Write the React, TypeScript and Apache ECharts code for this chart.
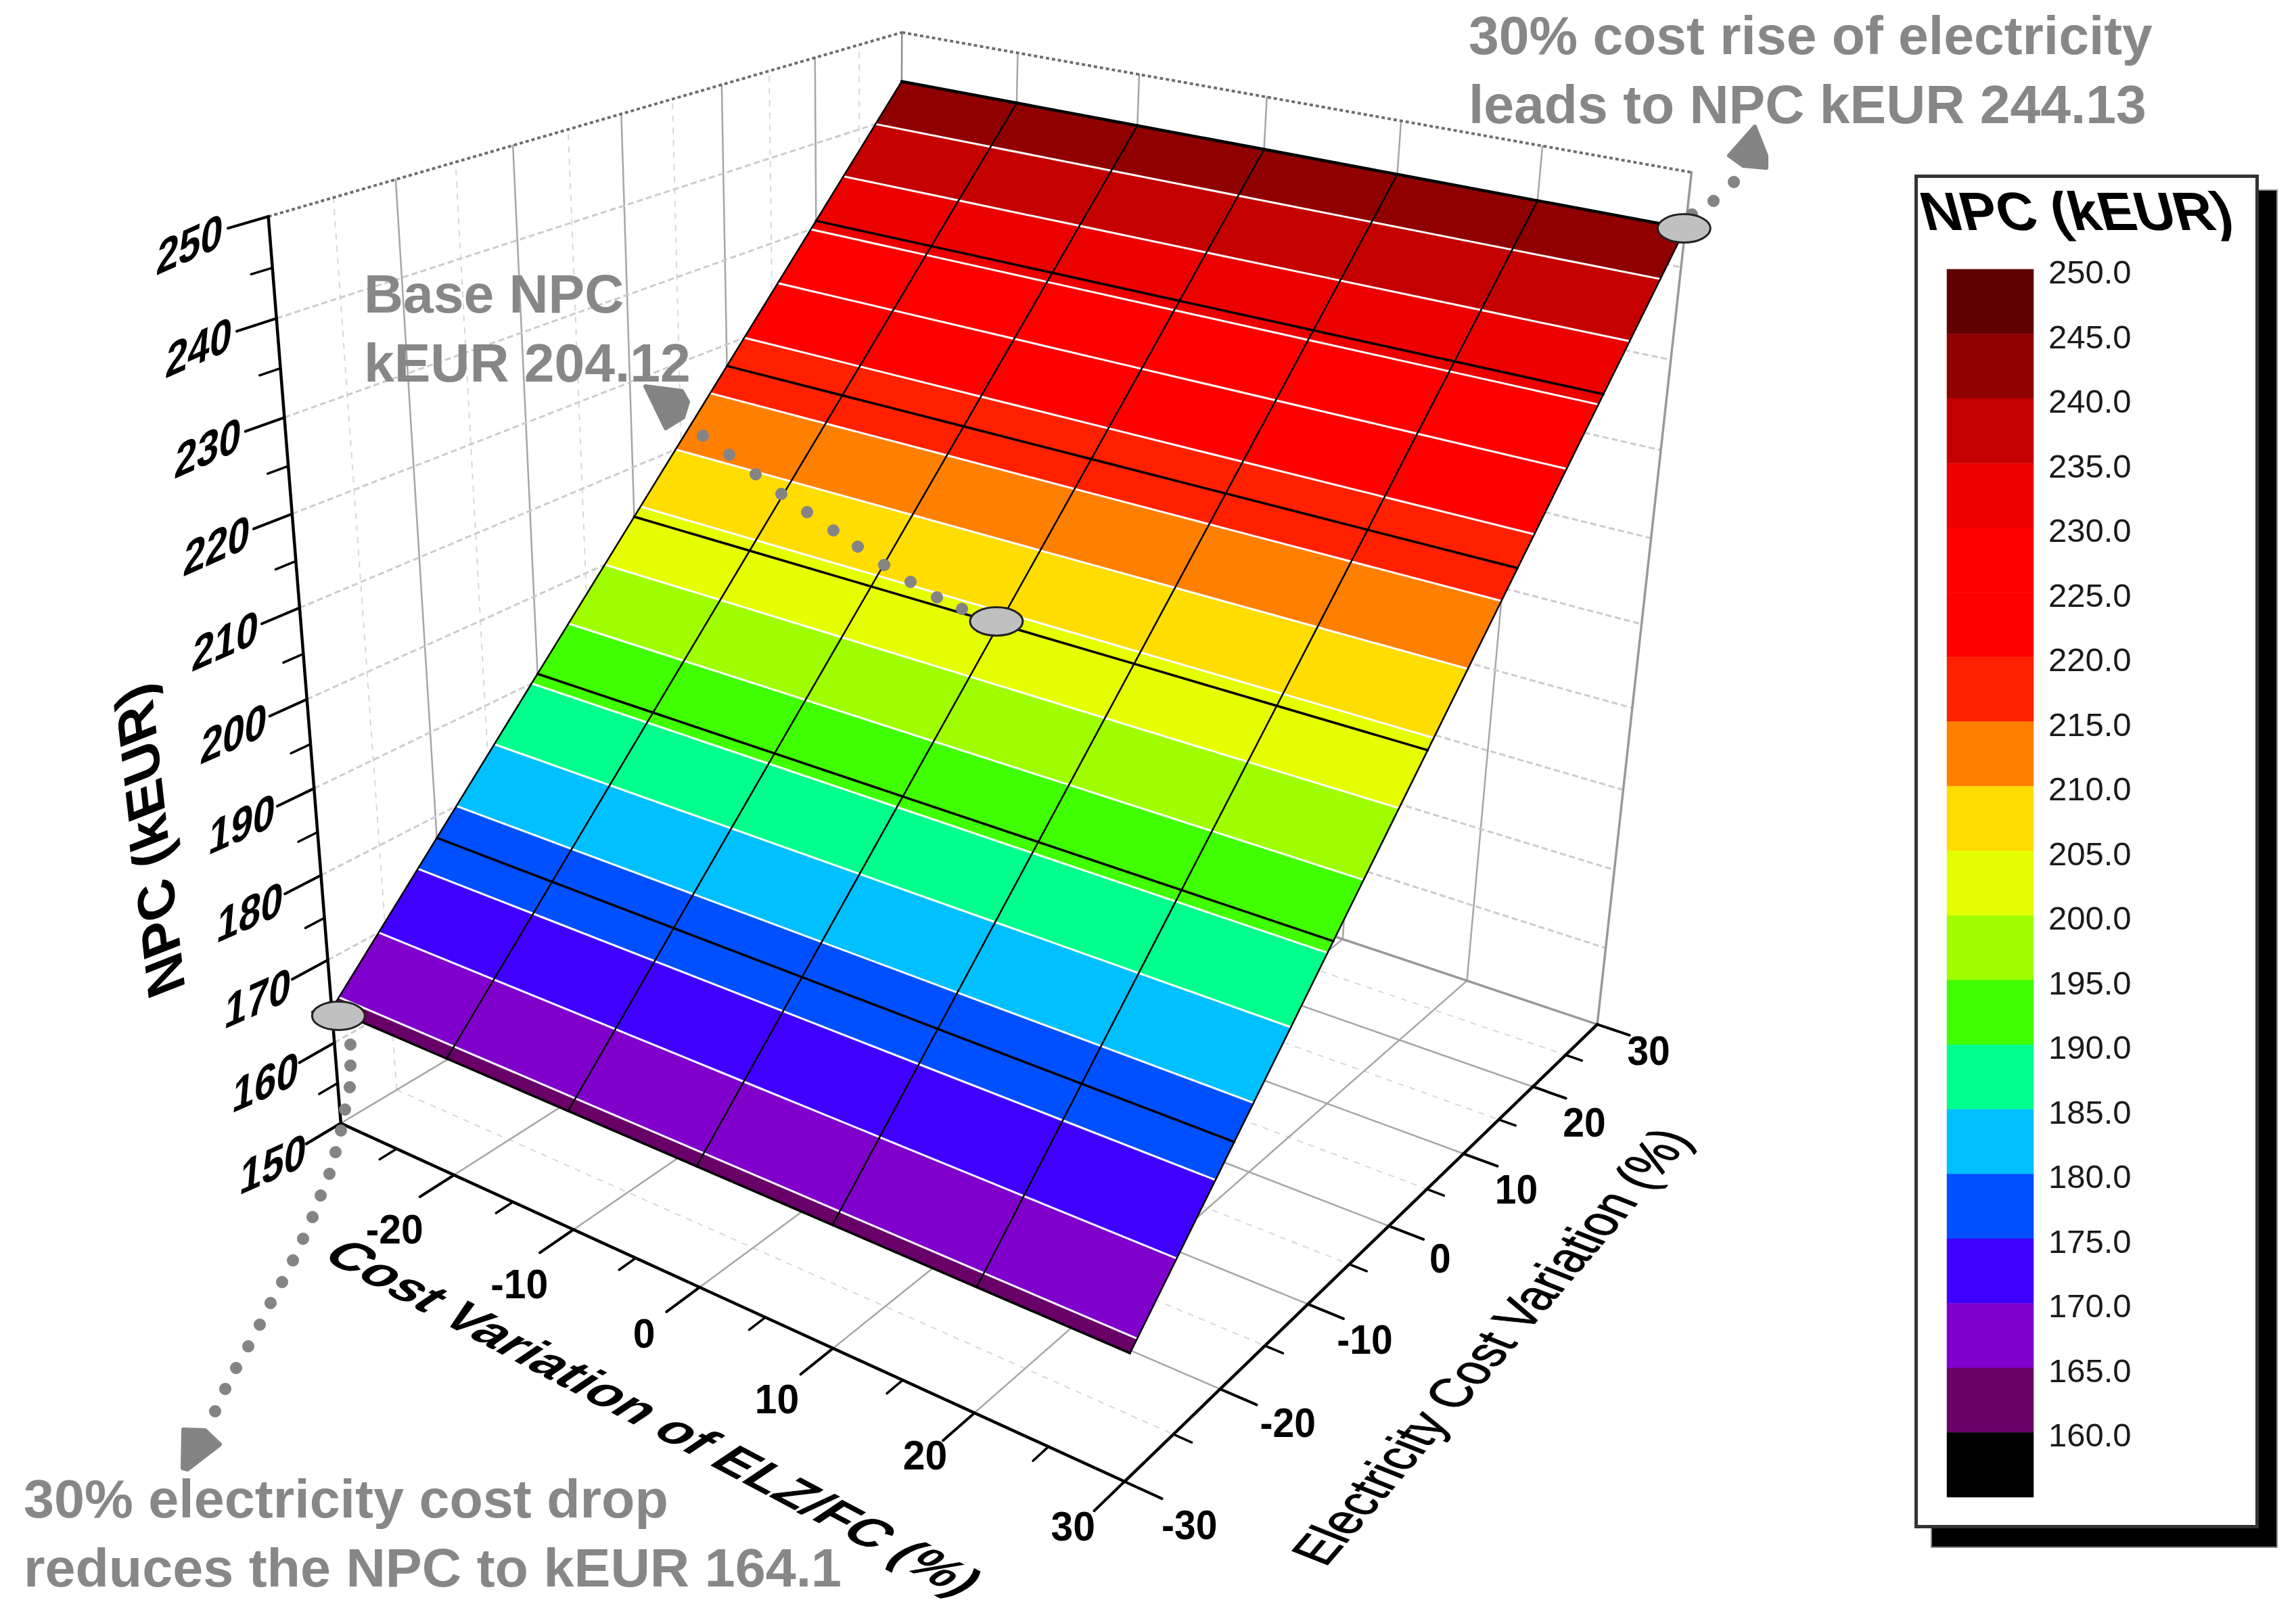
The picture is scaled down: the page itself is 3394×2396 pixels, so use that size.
import React, { useEffect, useRef } from "react";
import * as echarts from "echarts";

// ---------- data ----------
const elzLevels = [-30, -20, -10, 0, 10, 20, 30];
const electricityLevels = [-30, -20, -10, 0, 10, 20, 30];
// one row per electricity level, one column per ELZ/FC level
const npcGrid = [
  [164.1, 164.1, 164.1, 164.1, 164.1, 164.1, 164.1],
  [177.45, 177.45, 177.45, 177.45, 177.45, 177.45, 177.45],
  [190.8, 190.8, 190.8, 190.8, 190.8, 190.8, 190.8],
  [204.12, 204.12, 204.12, 204.12, 204.12, 204.12, 204.12],
  [217.45, 217.45, 217.45, 217.45, 217.45, 217.45, 217.45],
  [230.8, 230.8, 230.8, 230.8, 230.8, 230.8, 230.8],
  [244.13, 244.13, 244.13, 244.13, 244.13, 244.13, 244.13],
];
const npcTicks = [150, 160, 170, 180, 190, 200, 210, 220, 230, 240, 250];
const npcMinorTicks = [155, 165, 175, 185, 195, 205, 215, 225, 235, 245];
const variationMinorTicks = [-25, -15, -5, 5, 15, 25];
const legendLevels = [250, 245, 240, 235, 230, 225, 220, 215, 210, 205, 200, 195, 190, 185, 180, 175, 170, 165, 160];
const legendColors = [
  "#600000", "#900000", "#c40000", "#ec0000", "#ff0000", "#ff0000", "#ff2000", "#ff8000", "#ffdd00", "#e6ff00",
  "#9fff00", "#40ff00", "#00ff8c", "#00c0ff", "#0050ff", "#4000ff", "#8000cc", "#680068", "#000000",
];
const keyPoints = [
  [-30, -30, 164.1],
  [0, 0, 204.12],
  [30, 30, 244.13],
];
const noteLowText = ["30% electricity cost drop", "reduces the NPC to kEUR 164.1"];
const noteBaseText = ["Base NPC", "kEUR 204.12"];
const noteHighText = ["30% cost rise of electricity", "leads to NPC kEUR 244.13"];

// ---------- camera calibration: box reference points -> page pixels ----------
const cameraAnchors = [
  [-30, -30, 150, 502, 1661], [-20, -30, 150, 668, 1737], [-10, -30, 150, 848, 1816], [10, -30, 150, 1230, 1992],
  [20, -30, 150, 1437, 2088], [30, -30, 150, 1663, 2190], [30, -20, 150, 1806, 2054], [30, -10, 150, 1934, 1927],
  [30, 0, 150, 2054, 1813], [30, 10, 150, 2163, 1705], [30, 20, 150, 2270, 1606], [30, 30, 150, 2362, 1514],
  [20, 30, 150, 2170, 1452],
  [-30, -30, 250, 397, 320], [-30, -20, 250, 583, 266], [-30, -10, 250, 759, 215], [-30, 0, 250, 918, 168],
  [-30, 10, 250, 1067, 125], [-30, 20, 250, 1204, 84], [-30, 30, 250, 1333, 47], [-20, 30, 250, 1504, 79],
  [-10, 30, 250, 1683, 110], [0, 30, 250, 1874, 145], [10, 30, 250, 2075, 180], [20, 30, 250, 2281, 218],
  [30, 30, 250, 2501, 254],
  [-30, -30, 240, 408, 472], [-30, -30, 230, 420, 617], [-30, -30, 220, 432, 760], [-30, -30, 210, 444, 899],
  [-30, -30, 200, 454.5, 1032], [-30, -30, 190, 464, 1167], [-30, -30, 180, 474, 1293], [-30, -30, 170, 484.6, 1421],
  [-30, -30, 160, 492, 1543],
  [30, 30, 160, 2371, 1400], [30, 30, 170, 2384, 1284], [30, 30, 180, 2397.5, 1168], [30, 30, 190, 2413, 1047],
  [30, 30, 200, 2425, 925],
  [30, -30, 164.1, 1671, 2000], [30, 30, 244.13, 2490, 335], [-30, 30, 244.13, 1333, 120], [0, 0, 204.12, 1472, 918],
  [-30, 0, 204.12, 939, 763], [30, 0, 204.12, 2112, 1109], [-30, -30, 164.1, 499, 1490],
];

function solveCamera() {
  const n = 11;
  const M = Array.from({ length: n }, () => new Array(n + 1).fill(0));
  const add = (row: number[], rhs: number) => {
    for (let i = 0; i < n; i++) {
      for (let j = 0; j < n; j++) M[i][j] += row[i] * row[j];
      M[i][n] += row[i] * rhs;
    }
  };
  cameraAnchors.forEach(([x, y, z, u, v]) => {
    const X = x / 30, Y = y / 30, Z = (z - 200) / 50, U = u / 1000, V = v / 1000;
    add([X, Y, Z, 1, 0, 0, 0, 0, -U * X, -U * Y, -U * Z], U);
    add([0, 0, 0, 0, X, Y, Z, 1, -V * X, -V * Y, -V * Z], V);
  });
  for (let c = 0; c < n; c++) {
    let best = c;
    for (let r = c + 1; r < n; r++) if (Math.abs(M[r][c]) > Math.abs(M[best][c])) best = r;
    [M[c], M[best]] = [M[best], M[c]];
    for (let r = 0; r < n; r++) {
      if (r === c) continue;
      const f = M[r][c] / M[c][c];
      for (let k = c; k <= n; k++) M[r][k] -= f * M[c][k];
    }
  }
  return M.map((row, i) => row[n] / row[i]);
}
const cam = solveCamera();
function project(x: number, y: number, z: number): [number, number] {
  const X = x / 30, Y = y / 30, Z = (z - 200) / 50;
  const w = cam[8] * X + cam[9] * Y + cam[10] * Z + 1;
  return [
    (1000 * (cam[0] * X + cam[1] * Y + cam[2] * Z + cam[3])) / w,
    (1000 * (cam[4] * X + cam[5] * Y + cam[6] * Z + cam[7])) / w,
  ];
}

// ---------- derived marks ----------
type P3 = [number, number, number];
type Seg = { a: P3; b: P3; color: string; width: number; dash?: number[] };
const xMin = elzLevels[0], xMax = elzLevels[elzLevels.length - 1];
const yMin = electricityLevels[0], yMax = electricityLevels[electricityLevels.length - 1];
const zMin = npcTicks[0], zMax = npcTicks[npcTicks.length - 1];
const inner = (arr: number[]) => arr.slice(1, -1);

const frameSegs: Seg[] = [];
const SOLID = "#a6a6a6", DASH_Z = "#cccccc", DASH_MINOR = "#d8d8d8", TOP = "#6e6e6e";
// left wall and floor minors
variationMinorTicks.forEach((y) => {
  frameSegs.push({ a: [xMin, y, zMin], b: [xMin, y, zMax], color: DASH_MINOR, width: 2, dash: [9, 9] });
  frameSegs.push({ a: [xMin, y, zMin], b: [xMax, y, zMin], color: DASH_MINOR, width: 2, dash: [9, 9] });
});
inner(electricityLevels).forEach((y) => {
  frameSegs.push({ a: [xMin, y, zMin], b: [xMin, y, zMax], color: SOLID, width: 2.5 });
  frameSegs.push({ a: [xMin, y, zMin], b: [xMax, y, zMin], color: SOLID, width: 2.5 });
});
inner(elzLevels).forEach((x) => {
  frameSegs.push({ a: [x, yMax, zMin], b: [x, yMax, zMax], color: SOLID, width: 2.5 });
  frameSegs.push({ a: [x, yMin, zMin], b: [x, yMax, zMin], color: SOLID, width: 2.5 });
});
inner(npcTicks).forEach((z) => {
  frameSegs.push({ a: [xMin, yMin, z], b: [xMin, yMax, z], color: DASH_Z, width: 3, dash: [9, 5] });
  frameSegs.push({ a: [xMin, yMax, z], b: [xMax, yMax, z], color: DASH_Z, width: 3, dash: [9, 5] });
});
frameSegs.push({ a: [xMin, yMin, zMin], b: [xMin, yMax, zMin], color: SOLID, width: 2.5 });
frameSegs.push({ a: [xMin, yMax, zMin], b: [xMax, yMax, zMin], color: "#999999", width: 3.5 });
frameSegs.push({ a: [xMax, yMax, zMin], b: [xMax, yMax, zMax], color: "#999999", width: 3.5 });
frameSegs.push({ a: [xMin, yMax, zMin], b: [xMin, yMax, zMax], color: "#8c8c8c", width: 2.5 });
frameSegs.push({ a: [xMin, yMin, zMax], b: [xMin, yMax, zMax], color: TOP, width: 4, dash: [5, 4] });
frameSegs.push({ a: [xMin, yMax, zMax], b: [xMax, yMax, zMax], color: TOP, width: 4, dash: [5, 4] });
// axes
frameSegs.push({ a: [xMin, yMin, zMin], b: [xMin, yMin, zMax], color: "#000", width: 4.5 });
frameSegs.push({ a: [xMin, yMin, zMin], b: [xMax, yMin, zMin], color: "#000", width: 4.5 });
frameSegs.push({ a: [xMax, yMin, zMin], b: [xMax, yMax, zMin], color: "#000", width: 4.5 });
npcTicks.forEach((z) => frameSegs.push({ a: [xMin, yMin, z], b: [xMin, yMin - 3, z], color: "#000", width: 4 }));
npcMinorTicks.forEach((z) => frameSegs.push({ a: [xMin, yMin, z], b: [xMin, yMin - 1.6, z], color: "#000", width: 3.5 }));
elzLevels.forEach((x) => frameSegs.push({ a: [x, yMin, zMin], b: [x, yMin - 3, zMin], color: "#000", width: 4 }));
variationMinorTicks.forEach((x) => frameSegs.push({ a: [x, yMin, zMin], b: [x, yMin - 1.5, zMin], color: "#000", width: 3.5 }));
electricityLevels.forEach((y) => frameSegs.push({ a: [xMax, y, zMin], b: [xMax + 2.4, y, zMin], color: "#000", width: 4 }));
variationMinorTicks.forEach((y) => frameSegs.push({ a: [xMax, y, zMin], b: [xMax + 1.2, y, zMin], color: "#000", width: 3.5 }));

// contour bands of the surface
type Poly = { pts: P3[]; color: string };
const clip = (pts: P3[], level: number, keepAbove: boolean): P3[] => {
  const out: P3[] = [];
  pts.forEach((p, i) => {
    const q = pts[(i + 1) % pts.length];
    const pIn = keepAbove ? p[2] >= level : p[2] <= level;
    const qIn = keepAbove ? q[2] >= level : q[2] <= level;
    if (pIn) out.push(p);
    if (pIn !== qIn) {
      const t = (level - p[2]) / (q[2] - p[2]);
      out.push([p[0] + t * (q[0] - p[0]), p[1] + t * (q[1] - p[1]), level]);
    }
  });
  return out;
};
const bandPolys: Poly[] = [];
const contourSegs: Seg[] = [];
for (let j = 0; j < electricityLevels.length - 1; j++) {
  for (let i = 0; i < elzLevels.length - 1; i++) {
    const quad: P3[] = [
      [elzLevels[i], electricityLevels[j], npcGrid[j][i]],
      [elzLevels[i + 1], electricityLevels[j], npcGrid[j][i + 1]],
      [elzLevels[i + 1], electricityLevels[j + 1], npcGrid[j + 1][i + 1]],
      [elzLevels[i], electricityLevels[j + 1], npcGrid[j + 1][i]],
    ];
    legendLevels.forEach((hi, k) => {
      const pts = clip(clip(quad, hi - 5, true), hi, false);
      if (pts.length >= 3) bandPolys.push({ pts, color: legendColors[k] });
      const hits = clip(quad, hi, true).filter((p) => p[2] === hi);
      if (hits.length === 2) contourSegs.push({ a: hits[0], b: hits[1], color: "#ffffff", width: 3 });
    });
  }
}
const meshSegs: Seg[] = [];
electricityLevels.forEach((y, j) => {
  for (let i = 0; i < elzLevels.length - 1; i++) {
    const edge = j === electricityLevels.length - 1;
    meshSegs.push({ a: [elzLevels[i], y, npcGrid[j][i]], b: [elzLevels[i + 1], y, npcGrid[j][i + 1]], color: "#000", width: edge ? 4.5 : 3.5 });
  }
});
elzLevels.forEach((x, i) => {
  for (let j = 0; j < electricityLevels.length - 1; j++) {
    meshSegs.push({ a: [x, electricityLevels[j], npcGrid[j][i]], b: [x, electricityLevels[j + 1], npcGrid[j + 1][i]], color: "#000", width: 2.5 });
  }
});

// ---------- annotations (page pixels) ----------
const GREY = "#878787";
const lowDots = [[518, 1544], [518, 1575], [517, 1607], [510, 1640], [504, 1671], [496, 1703], [487, 1735], [474, 1767], [462, 1799], [448, 1831], [433, 1863], [417, 1895], [400, 1926], [384, 1958], [367, 1990], [349, 2022], [333, 2053], [318, 2086]];
const baseDots = [[1039, 644], [1078, 672], [1117, 701], [1155, 730], [1193, 757], [1232, 784], [1268, 808], [1307, 835], [1346, 860], [1385, 883], [1422, 900]];
const highDots = [[2563, 269], [2533, 297], [2501, 317]];
const arrowHeads = [
  [[271, 2113], [303, 2114], [325, 2135], [277, 2172], [270, 2170]],
  [[954, 571], [1008, 578], [1017, 594], [1010, 617], [984, 633]],
  [[2594, 187], [2556, 230], [2577, 245], [2611, 248], [2611, 230]],
];
const keyPointNudges = [[10, 10], [-4, -4], [-2, 0]];
// label nudges away from the tick base, page pixels
const elzLabelNudges = [[-88, 80], [-80, 80], [-82, 68], [-83, 75], [-73, 62], [-76, 66]];
const electricityLabelNudges = [[96, 64], [100, 50], [84, 52], [76, 48], [78, 52], [76, 52], [76, 38]];

type Label = { text: string; x: number; y: number; font: string; fill?: string; rot?: number; sx?: number; align?: string; heavy?: number };
const FAMILY = '"Liberation Sans"';
const labels: Label[] = [];
npcTicks.forEach((z) => {
  const [px, py] = project(xMin, yMin, z);
  labels.push({ text: String(z), x: px - 100 - 0.16 * (z - 150), y: py + 60 - 0.19 * (z - 150), font: `bold 64px ${FAMILY}`, rot: 24 });
});
elzLevels.slice(1).forEach((x, i) => {
  const [px, py] = project(x, yMin, zMin);
  labels.push({ text: String(x), x: px + elzLabelNudges[i][0], y: py + elzLabelNudges[i][1], font: `bold 62px ${FAMILY}`, sx: 0.95 });
});
electricityLevels.forEach((y, i) => {
  const [px, py] = project(xMax, y, zMin);
  labels.push({ text: String(y), x: px + electricityLabelNudges[i][0], y: py + electricityLabelNudges[i][1], font: `bold 62px ${FAMILY}`, sx: 0.92 });
});
const TITLE_X = "Cost Variation of ELZ/FC (%)", TITLE_Y = "Electricity Cost Variation (%)", TITLE_Z = "NPC (kEUR)";
labels.push({ text: TITLE_X, x: 967, y: 2095, font: `bold 68px ${FAMILY}`, rot: -28, sx: 1.16 });
labels.push({ text: TITLE_Y, x: 2204, y: 1990, font: `78px ${FAMILY}`, rot: 49.4, sx: 0.85, heavy: 1.2 });
labels.push({ text: TITLE_Z, x: 221, y: 1243, font: `bold 80px ${FAMILY}`, rot: 96.4 });
const noteFont = `bold 80px ${FAMILY}`;
noteHighText.forEach((t, i) => labels.push({ text: t, x: 2171, y: 52 + i * 102, font: noteFont, fill: GREY, align: "left", sx: 1.006 }));
noteBaseText.forEach((t, i) => labels.push({ text: t, x: 538, y: 434 + i * 102, font: noteFont, fill: GREY, align: "left", sx: 1.005 }));
noteLowText.forEach((t, i) => labels.push({ text: t, x: 35, y: 2215 + i * 102, font: noteFont, fill: GREY, align: "left", sx: 1.011 }));

// glyph shear of the 3D-plane labels, degrees, by text
const shear: Record<string, number> = { [TITLE_X]: -28, [TITLE_Y]: 19, [TITLE_Z]: 15 };
npcTicks.forEach((z) => (shear[String(z)] = -29));

const indexed = (arr: unknown[]) => arr.map((_, i) => [i, 0]);
const xy = (api: any, p: [number, number]) => api.coord(p);

export default function App() {
  const ref = useRef<HTMLDivElement>(null);
  useEffect(() => {
    document.body.style.margin = "0";
    const chart = echarts.init(ref.current!, null, { renderer: "svg" });
    const segRender = (segs: Seg[]) => (params: any, api: any) => {
      const s = segs[params.dataIndex];
      const [x1, y1] = xy(api, project(...s.a));
      const [x2, y2] = xy(api, project(...s.b));
      return {
        type: "line",
        silent: true,
        shape: { x1, y1, x2, y2 },
        style: { stroke: s.color, lineWidth: s.width, lineDash: s.dash, lineCap: s.dash ? "butt" : "round" },
      };
    };
    const base = { type: "custom", coordinateSystem: "cartesian2d", xAxisIndex: 0, yAxisIndex: 0, silent: true, animation: false };
    chart.setOption({
      animation: false,
      backgroundColor: "#ffffff",
      tooltip: { show: false },
      grid: [
        { left: 0, top: 0, width: 3394, height: 2396 },
        { left: 2878, top: 398, width: 128, height: 1815 },
      ],
      xAxis: [
        { type: "value", min: 0, max: 3394, show: false, gridIndex: 0 },
        { type: "value", min: 0, max: 1, show: false, gridIndex: 1 },
      ],
      yAxis: [
        { type: "value", min: 0, max: 2396, inverse: true, show: false, gridIndex: 0 },
        {
          type: "value",
          gridIndex: 1,
          position: "right",
          z: 20,
          min: 155,
          max: 250,
          interval: 5,
          splitLine: { show: false },
          axisLine: { show: false },
          axisTick: { show: false },
          axisLabel: {
            margin: 22,
            showMinLabel: false,
            formatter: (v: number) => (v === 155 ? "" : `{v|${v.toFixed(1)}}`),
            rich: { v: { fontFamily: FAMILY, fontSize: 49, color: "#1a1a1a", padding: [8, 0, 0, 0] } },
          },
        },
      ],
      graphic: [
        { type: "rect", z: 0, silent: true, shape: { x: 2855, y: 281, width: 511, height: 2006 }, style: { fill: "#000", stroke: "#888", lineWidth: 2 } },
        { type: "rect", z: 1, silent: true, shape: { x: 2832.5, y: 260.5, width: 504, height: 1996 }, style: { fill: "#fff", stroke: "#333", lineWidth: 5 } },
        { type: "text", z: 2, silent: true, x: 3069, y: 312, style: { text: "NPC (kEUR)", font: `bold 80px ${FAMILY}`, fill: "#000", textAlign: "center", textVerticalAlign: "middle" } },
      ],
      series: [
        {
          ...base,
          name: "Legend scale",
          xAxisIndex: 1,
          yAxisIndex: 1,
          z: 3,
          data: legendLevels.map((v) => [0, v]),
          renderItem: (params: any, api: any) => {
            const v = api.value(1);
            const a = api.coord([0, v]);
            const b = api.coord([1, v - 5]);
            const fill = legendColors[params.dataIndex];
            return { type: "rect", silent: true, shape: { x: a[0], y: a[1], width: b[0] - a[0], height: b[1] - a[1] }, style: { fill, stroke: fill, lineWidth: 0.5 } };
          },
        },
        { ...base, name: "Box", z: 2, data: indexed(frameSegs), renderItem: segRender(frameSegs) },
        {
          ...base,
          name: "NPC surface",
          z: 3,
          data: indexed(bandPolys),
          renderItem: (params: any, api: any) => {
            const p = bandPolys[params.dataIndex];
            return {
              type: "polygon",
              silent: true,
              shape: { points: p.pts.map((q) => xy(api, project(...q))) },
              style: { fill: p.color, stroke: p.color, lineWidth: 1 },
            };
          },
        },
        { ...base, name: "Contours", z: 4, data: indexed(contourSegs), renderItem: segRender(contourSegs) },
        { ...base, name: "Mesh", z: 5, data: indexed(meshSegs), renderItem: segRender(meshSegs) },
        {
          ...base,
          name: "Dots",
          z: 6,
          data: [...lowDots, ...baseDots, ...highDots],
          renderItem: (_: any, api: any) => {
            const [cx, cy] = api.coord([api.value(0), api.value(1)]);
            return { type: "circle", silent: true, shape: { cx, cy, r: 9 }, style: { fill: "#848484" } };
          },
        },
        {
          ...base,
          name: "Arrow heads",
          z: 6,
          data: indexed(arrowHeads),
          renderItem: (params: any, api: any) => ({
            type: "polygon",
            silent: true,
            shape: { points: arrowHeads[params.dataIndex].map((q) => xy(api, q as [number, number])) },
            style: { fill: "#848484", stroke: "#848484", lineWidth: 6, lineJoin: "round" },
          }),
        },
        {
          ...base,
          name: "Key points",
          z: 7,
          data: indexed(keyPoints),
          renderItem: (params: any, api: any) => {
            const k = keyPoints[params.dataIndex];
            const [cx, cy] = xy(api, project(k[0], k[1], k[2]));
            const n = keyPointNudges[params.dataIndex];
            return { type: "ellipse", silent: true, shape: { cx: cx + n[0], cy: cy + n[1], rx: 39, ry: 21 }, style: { fill: "#c0c0c0", stroke: "#222", lineWidth: 3 } };
          },
        },
        {
          ...base,
          name: "Labels",
          z: 8,
          data: indexed(labels),
          renderItem: (params: any, api: any) => {
            const l = labels[params.dataIndex];
            const [x, y] = xy(api, [l.x, l.y]);
            return {
              type: "text",
              silent: true,
              x,
              y,
              rotation: ((l.rot || 0) * Math.PI) / 180,
              scaleX: l.sx || 1,
              style: {
                text: l.text,
                font: l.font,
                fill: l.fill || "#000",
                textAlign: l.align || "center",
                textVerticalAlign: "middle",
                ...(l.heavy ? { stroke: "#000", lineWidth: l.heavy } : {}),
              },
            };
          },
        },
      ],
    });
    const zr: any = chart.getZr();
    zr.storage.getDisplayList(true).forEach((el: any) => {
      const t = el.style && el.style.text;
      if (t !== undefined && shear[t] !== undefined && el.parent) {
        el.parent.skewX = (shear[t] * Math.PI) / 180;
        el.parent.markRedraw();
      }
    });
    zr.refreshImmediately();
    return () => chart.dispose();
  }, []);
  return <div ref={ref} style={{ position: "absolute", left: 0, top: 0, width: 3394, height: 2396, background: "#fff" }} />;
}
